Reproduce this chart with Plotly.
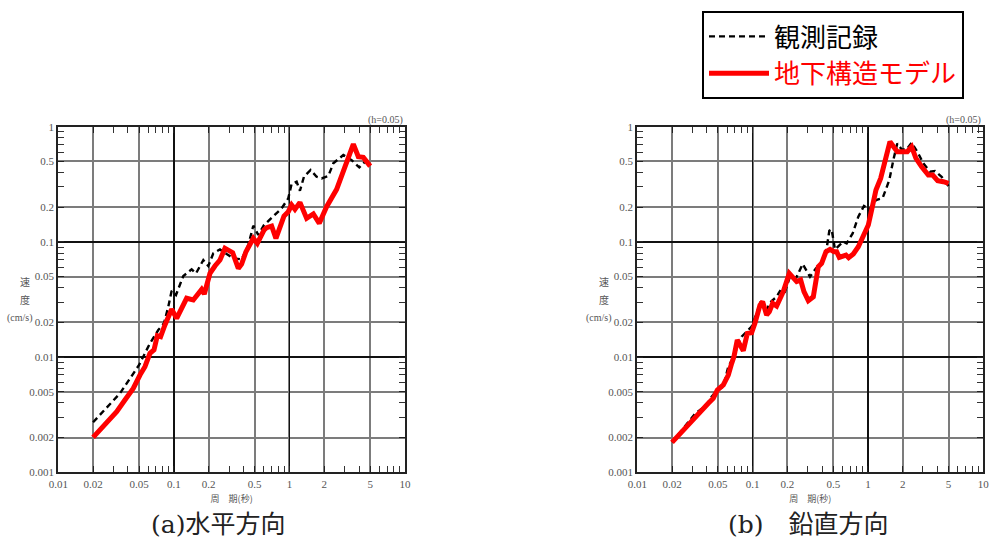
import plotly.graph_objects as go

# ---------------- data (period [s], velocity response [cm/s]) ----------------
obs_h_T = [0.02, 0.0342, 0.05, 0.0621, 0.0733, 0.0821, 0.0895, 0.0957, 0.1043, 0.1207,
           0.1425, 0.1554, 0.1798, 0.1986, 0.2194, 0.2506, 0.2864, 0.3268, 0.3857, 0.4406,
           0.4869, 0.5379, 0.6022, 0.7247, 0.8555, 0.9772, 1.044, 1.154, 1.233, 1.336,
           1.525, 1.718, 1.899, 2.170, 2.397, 2.926, 3.453, 4.024, 4.505, 5.0]
obs_h_V = [0.00272, 0.00485, 0.00854, 0.01316, 0.01718, 0.01963, 0.0274, 0.0377, 0.0346, 0.0506,
           0.0578, 0.0533, 0.0696, 0.0618, 0.0795, 0.0861, 0.0785, 0.0720, 0.0705, 0.0939,
           0.1383, 0.1148, 0.140, 0.1655, 0.1955, 0.2388, 0.3179, 0.3329, 0.278, 0.368,
           0.421, 0.368, 0.356, 0.373, 0.481, 0.568, 0.513, 0.443, 0.497, 0.455]

mod_h_T = [0.02, 0.0262, 0.0320, 0.0377, 0.0445, 0.0509, 0.0562, 0.0621, 0.0673, 0.0719,
           0.0768, 0.0837, 0.0957, 0.1057, 0.1167, 0.1289, 0.1472, 0.1627, 0.1739, 0.1834,
           0.2053, 0.2267, 0.2506, 0.2767, 0.3226, 0.3612, 0.3857, 0.4205, 0.4615, 0.4869,
           0.5272, 0.6022, 0.6350, 0.7015, 0.7643, 0.8971, 0.9772, 1.044, 1.116, 1.233,
           1.409, 1.610, 1.813, 2.097, 2.561, 2.926, 3.342, 3.573, 3.945, 4.358, 5.0]
mod_h_V = [0.00201, 0.00275, 0.00336, 0.00424, 0.00535, 0.00699, 0.00826, 0.01078, 0.01153, 0.01535,
           0.01504, 0.0190, 0.0260, 0.0217, 0.0265, 0.0324, 0.0313, 0.0362, 0.0387, 0.0353,
           0.0533, 0.0618, 0.0696, 0.0879, 0.0806, 0.0589, 0.0642, 0.0822, 0.0971, 0.1074,
           0.0971, 0.1268, 0.1328, 0.1373, 0.1074, 0.1676, 0.1829, 0.2089, 0.1915, 0.2203,
           0.160, 0.1746, 0.1449, 0.2020, 0.2858, 0.4206, 0.586, 0.706, 0.549, 0.542, 0.455]

obs_v_T = [0.02, 0.0316, 0.0399, 0.0441, 0.0494, 0.0557, 0.0615, 0.0689, 0.0751, 0.0803,
           0.0887, 0.0980, 0.1083, 0.1173, 0.1322, 0.1413, 0.1614, 0.1748, 0.1906, 0.2106,
           0.2375, 0.2715, 0.3143, 0.3540, 0.3964, 0.4383, 0.4623, 0.4842, 0.5176, 0.5715,
           0.6112, 0.6535, 0.7365, 0.8248, 0.9231, 1.028, 1.173, 1.340, 1.531, 1.659,
           1.795, 1.958, 2.163, 2.390, 2.731, 3.018, 3.448, 3.809, 4.352, 5.0]
obs_v_V = [0.00182, 0.00321, 0.00384, 0.00454, 0.00518, 0.00554, 0.00826, 0.0101, 0.01316, 0.01504,
           0.01663, 0.01837, 0.0240, 0.0303, 0.0256, 0.0297, 0.0334, 0.0382, 0.0370, 0.0499,
           0.0483, 0.0642, 0.0499, 0.0589, 0.0642, 0.0879, 0.1250, 0.1285, 0.0861, 0.0939,
           0.1004, 0.0971, 0.1186, 0.1655, 0.2048, 0.1915, 0.2307, 0.2404, 0.344, 0.513,
           0.716, 0.635, 0.635, 0.726, 0.586, 0.481, 0.407, 0.412, 0.368, 0.305]

mod_v_T = [0.02, 0.0250, 0.0306, 0.0361, 0.0413, 0.0456, 0.0494, 0.0557, 0.0615, 0.0658,
           0.0689, 0.0736, 0.0787, 0.0830, 0.0899, 0.0980, 0.1047, 0.1158, 0.1221, 0.1322,
           0.1396, 0.1491, 0.1614, 0.1844, 0.2078, 0.2253, 0.2409, 0.2608, 0.2787, 0.3040,
           0.3358, 0.3710, 0.3964, 0.4325, 0.4688, 0.5070, 0.5350, 0.5641, 0.6112, 0.6446,
           0.6797, 0.7464, 0.8248, 0.9116, 1.007, 1.076, 1.173, 1.288, 1.404, 1.552,
           1.795, 2.024, 2.193, 2.390, 2.608, 2.921, 3.337, 3.640, 4.018, 4.500, 5.0]
mod_v_V = [0.00182, 0.00233, 0.00294, 0.00352, 0.00397, 0.00439, 0.00518, 0.00573, 0.00699, 0.00883,
           0.0101, 0.01407, 0.01232, 0.01137, 0.01608, 0.01630, 0.01963, 0.0283, 0.0303, 0.0232,
           0.0248, 0.0293, 0.0278, 0.0370, 0.0533, 0.0483, 0.0452, 0.0467, 0.0370, 0.0309,
           0.0334, 0.0610, 0.0651, 0.0822, 0.0861, 0.0822, 0.0822, 0.0734, 0.0744, 0.0769,
           0.0729, 0.0785, 0.0908, 0.1109, 0.140, 0.189, 0.282, 0.356, 0.481, 0.741,
           0.607, 0.607, 0.607, 0.670, 0.531, 0.449, 0.380, 0.380, 0.340, 0.333, 0.322]

x_tickvals = [0.01, 0.02, 0.05, 0.1, 0.2, 0.5, 1, 2, 5, 10]
x_ticktext = ["0.01", "0.02", "0.05", "0.1", "0.2", "0.5", "1", "2", "5", "10"]
y_tickvals = [0.001, 0.002, 0.005, 0.01, 0.02, 0.05, 0.1, 0.2, 0.5, 1]
y_ticktext = ["0.001", "0.002", "0.005", "0.01", "0.02", "0.05", "0.1", "0.2", "0.5", "1"]
x_decades = [0.01, 0.1, 1, 10]
y_decades = [0.001, 0.01, 0.1, 1]
minor_mult = [3, 4, 6, 7, 8, 9]
x_minor = [d * m for d in [0.01, 0.1, 1] for m in minor_mult]
y_minor = [d * m for d in [0.001, 0.01, 0.1] for m in minor_mult]

legend_names = ["観測記録", "地下構造モデル"]
panel_titles = ["(a)水平方向", "(b)\u3000鉛直方向"]
x_title = "周\u3000期(秒)"
damping_text = "(h=0.05)"

# ---------------- figure ----------------
W, H = 997, 549
SERIF = "Liberation Serif, Noto Sans CJK JP"
CAP = "DejaVu Serif, Noto Sans CJK JP"
CJK = "Noto Sans CJK JP, Liberation Serif"

OBS_LINE = dict(color="black", width=2.4, dash="6px,4px")
MOD_LINE = dict(color="#ff0000", width=5)

fig = go.Figure()

panels = [
    ("x", "y", "x3", "y3", obs_h_T, obs_h_V, mod_h_T, mod_h_V, True),
    ("x2", "y2", "x4", "y4", obs_v_T, obs_v_V, mod_v_T, mod_v_V, False),
]
for xa, ya, xo, yo, oT, oV, mT, mV, show in panels:
    fig.add_trace(go.Scatter(x=[], y=[], xaxis=xo, yaxis=yo, showlegend=False,
                             hoverinfo="skip"))
    fig.add_trace(go.Scatter(x=oT, y=oV, mode="lines", line=OBS_LINE, name=legend_names[0],
                             legendrank=1, showlegend=show, xaxis=xa, yaxis=ya))
    fig.add_trace(go.Scatter(x=mT, y=mV, mode="lines", line=MOD_LINE,
                             name="<span style='color:#ff0000'>" + legend_names[1] + "</span>",
                             legendrank=2, showlegend=show, xaxis=xa, yaxis=ya))

ydom = [1 - 472.3 / H, 1 - 126.7 / H]
xdoms = [[58.3 / W, 405.0 / W], [637.3 / W, 983.3 / W]]

tickfont = dict(family=SERIF, size=11, color="#555555")

def main_x(dom, anchor):
    return dict(type="log", range=[-2, 1], domain=dom, anchor=anchor,
                tickmode="array", tickvals=x_tickvals, ticktext=x_ticktext,
                tickfont=tickfont, ticks="inside", ticklen=6, tickcolor="#222",
                showgrid=True, gridcolor="#7c7c7c", gridwidth=2,
                showline=True, linecolor="#222", linewidth=2, mirror="allticks",
                minor=dict(tickmode="array", tickvals=x_minor, ticks="inside",
                           ticklen=6, tickcolor="#333", tickwidth=1, showgrid=False),
                title=dict(text=x_title, font=dict(family=CJK, size=9, color="#555"),
                           standoff=7),
                automargin=False, zeroline=False, fixedrange=True)

def main_y(anchor):
    return dict(type="log", range=[-3, 0], domain=ydom, anchor=anchor,
                tickmode="array", tickvals=y_tickvals, ticktext=y_ticktext,
                tickfont=tickfont, ticks="inside", ticklen=6, tickcolor="#222",
                showgrid=True, gridcolor="#7c7c7c", gridwidth=2,
                showline=True, linecolor="#222", linewidth=2, mirror="allticks",
                minor=dict(tickmode="array", tickvals=y_minor, ticks="inside",
                           ticklen=6, tickcolor="#333", tickwidth=1, showgrid=False),
                automargin=False, zeroline=False, fixedrange=True)

def over_x(base, anchor):
    return dict(type="log", range=[-2, 1], overlaying=base, anchor=anchor,
                tickmode="array", tickvals=x_decades, showticklabels=False, ticks="",
                showgrid=True, gridcolor="#111111", gridwidth=1.4, showline=False,
                automargin=False, zeroline=False, fixedrange=True)

def over_y(base, anchor):
    return dict(type="log", range=[-3, 0], overlaying=base, anchor=anchor,
                tickmode="array", tickvals=y_decades, showticklabels=False, ticks="",
                showgrid=True, gridcolor="#111111", gridwidth=1.4, showline=False,
                automargin=False, zeroline=False, fixedrange=True)

annotations = []
centers = [218.0, 808.5]
for i, dom in enumerate(xdoms):
    # damping label
    annotations.append(dict(text=damping_text, xref="paper", yref="paper",
                            x=dom[1], y=1 - 120.5 / H, xanchor="right", yanchor="middle",
                            showarrow=False, font=dict(family=SERIF, size=10, color="#555")))
    # vertical y-axis label (stacked characters)
    lx = dom[0] * W
    for txt, dy, dx in [("速", 282, -33), ("度", 300, -33), ("(cm/s)", 318, -38)]:
        annotations.append(dict(text=txt, xref="paper", yref="paper",
                                x=(lx + dx) / W, y=1 - dy / H, xanchor="center",
                                yanchor="middle", showarrow=False,
                                font=dict(family=SERIF, size=10, color="#555")))
    # panel caption
    annotations.append(dict(text=panel_titles[i], xref="paper", yref="paper",
                            x=centers[i] / W, y=1 - 524 / H, xanchor="center",
                            yanchor="middle", showarrow=False,
                            font=dict(family=CAP, size=25, color="#222")))

fig.update_layout(
    width=W, height=H,
    margin=dict(l=0, r=0, t=0, b=0, autoexpand=False),
    paper_bgcolor="white", plot_bgcolor="white",
    xaxis=main_x(xdoms[0], "y"), yaxis=main_y("x"),
    xaxis2=main_x(xdoms[1], "y2"), yaxis2=main_y("x2"),
    xaxis3=over_x("x", "y"), yaxis3=over_y("y", "x"),
    xaxis4=over_x("x2", "y2"), yaxis4=over_y("y2", "x2"),
    legend=dict(x=702 / W, y=1 - 11 / H, xanchor="left", yanchor="top",
                bgcolor="white", bordercolor="black", borderwidth=2,
                font=dict(family=CJK, size=26, color="black"),
                itemwidth=60, tracegroupgap=0,
                itemclick=False, itemdoubleclick=False),
    annotations=annotations,
    showlegend=True,
    hovermode=False,
)

fig.write_html(
    "out.html",
    config={"displayModeBar": False, "staticPlot": True},
    post_script="document.body.style.margin='0';document.body.style.padding='0';"
                "document.body.style.overflow='hidden';",
)
